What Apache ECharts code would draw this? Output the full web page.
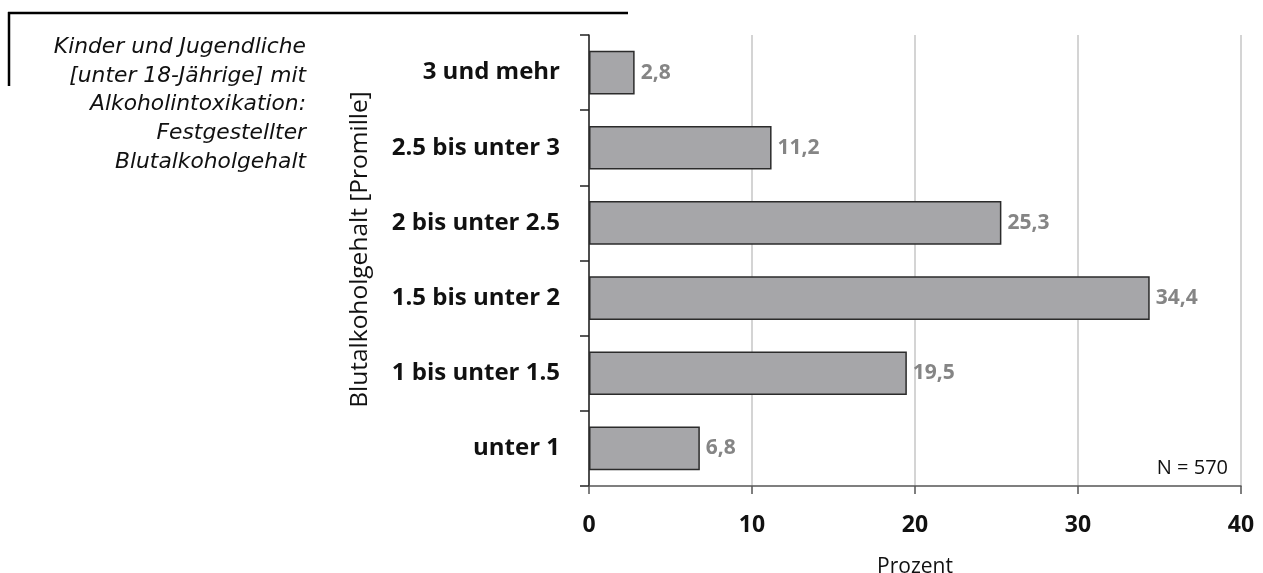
<!DOCTYPE html>
<html>
<head>
<meta charset="utf-8">
<script src="https://cdn.jsdelivr.net/npm/echarts@6/dist/echarts.min.js"></script>
<style>
html,body{margin:0;padding:0;background:#fff;}
#chart{width:1263px;height:573px;}
</style>
</head>
<body>
<div id="chart"></div>
<script>
const categories = ['3 und mehr', '2.5 bis unter 3', '2 bis unter 2.5', '1.5 bis unter 2', '1 bis unter 1.5', 'unter 1'];
const values = [2.8, 11.2, 25.3, 34.4, 19.5, 6.8];
const xTicks = { min: 0, max: 40, interval: 10 };
const titleLines = ['Kinder und Jugendliche', '[unter 18-Jährige] mit', 'Alkoholintoxikation:', 'Festgestellter', 'Blutalkoholgehalt'];
const noteText = 'N = 570';
const xName = 'Prozent';
const yName = 'Blutalkoholgehalt [Promille]';

const FONT = '"Open Sans", sans-serif';
const chart = echarts.init(document.getElementById('chart'), null, { renderer: 'canvas' });
chart.setOption({
  animation: false,
  backgroundColor: '#ffffff',
  graphic: [
    { type: 'line', shape: { x1: 8, y1: 13, x2: 628, y2: 13 }, style: { stroke: '#000', lineWidth: 2.5 } },
    { type: 'line', shape: { x1: 9, y1: 12, x2: 9, y2: 86 }, style: { stroke: '#000', lineWidth: 2.5 } },
    {
      type: 'text', x: 306, y: 33,
      style: {
        text: titleLines.join('\n'), align: 'right', verticalAlign: 'top',
        font: 'italic 21.8px "DejaVu Sans", sans-serif', lineHeight: 28.7, fill: '#111'
      }
    },
    {
      type: 'text', x: 1228, y: 468,
      style: { text: noteText, align: 'right', verticalAlign: 'middle', font: '20px ' + FONT, fill: '#111' }
    }
  ],
  grid: { left: 589, right: 22, top: 35, bottom: 87, containLabel: false, outerBoundsMode: 'none' },
  xAxis: {
    type: 'value', min: xTicks.min, max: xTicks.max, interval: xTicks.interval,
    name: xName, nameLocation: 'middle', nameGap: 71,
    nameTextStyle: { fontFamily: FONT, fontSize: 21, color: '#111' },
    axisLine: { show: true, lineStyle: { color: '#555', width: 1.5 } },
    axisTick: { show: true, length: 8, lineStyle: { color: '#555', width: 1.5 } },
    axisLabel: { margin: 28, fontFamily: FONT, fontWeight: 'bold', fontSize: 23, color: '#111' },
    splitLine: { show: true, lineStyle: { color: '#d4d4d4', width: 2 } }
  },
  yAxis: {
    type: 'category', data: categories, inverse: true,
    name: yName, nameLocation: 'middle', nameGap: 216, nameRotate: 90,
    nameTextStyle: { fontFamily: FONT, fontSize: 24.5, color: '#111', padding: [0, 0, 0, 22] },
    axisLine: { show: true, lineStyle: { color: '#222', width: 1.5 } },
    axisTick: { show: true, length: 9, alignWithLabel: false, lineStyle: { color: '#222', width: 1.5 } },
    axisLabel: { margin: 29, fontFamily: FONT, fontWeight: 'bold', fontSize: 24, color: '#111' },
    splitLine: { show: false }
  },
  series: [{
    type: 'bar', data: values, barWidth: '58%',
    itemStyle: { color: '#a6a6a9', borderColor: '#2b2b2b', borderWidth: 1.5 },
    label: {
      show: true, position: 'right', distance: 6,
      fontFamily: FONT, fontWeight: 'bold', fontSize: 21, color: '#858585',
      formatter: p => p.value.toFixed(1).replace('.', ',')
    }
  }]
});
</script>
</body>
</html>
